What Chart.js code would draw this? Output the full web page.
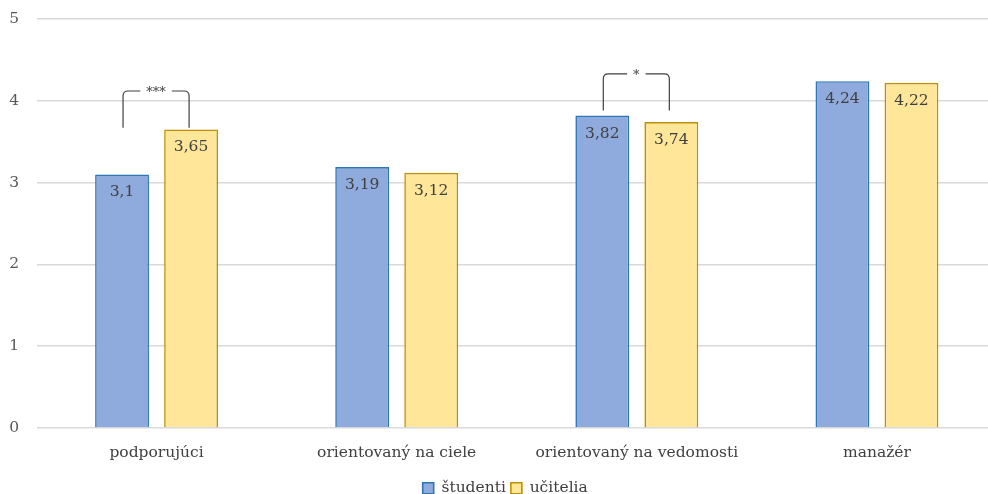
<!DOCTYPE html>
<html>
<head>
<meta charset="utf-8">
<script src="https://cdn.jsdelivr.net/npm/chart.js@4"></script>
<style>
  html, body { margin: 0; padding: 0; background: #fff; overflow: hidden; }
  #wrap { width: 988px; height: 494px; position: relative; }
</style>
</head>
<body>
<div id="wrap"><canvas id="chart"></canvas></div>
<script>
const categories = ['podporujúci', 'orientovaný na ciele', 'orientovaný na vedomosti', 'manažér'];
const studenti = [3.1, 3.19, 3.82, 4.24];
const ucitelia = [3.65, 3.12, 3.74, 4.22];
const yTicks = [0, 1, 2, 3, 4, 5];
// significance brackets: category index, marker, bracket top, leg bottom
const brackets = [
    { cat: 0, mark: '***', top: 4.12, bottom: 3.67 },
    { cat: 2, mark: '*', top: 4.33, bottom: 3.88 }
];

const FONT = '"DejaVu Serif", "Liberation Serif", serif';
const fmt = v => String(v).replace('.', ',');

// value labels just inside the top of each bar
const valueLabels = {
    id: 'valueLabels',
    afterDatasetsDraw(chart) {
        const ctx = chart.ctx;
        ctx.save();
        ctx.font = '15.5px ' + FONT;
        ctx.fillStyle = '#404040';
        ctx.textAlign = 'center';
        ctx.textBaseline = 'middle';
        chart.data.datasets.forEach((ds, i) => {
            chart.getDatasetMeta(i).data.forEach((bar, j) => {
                ctx.fillText(fmt(ds.data[j]), bar.x, bar.y + 18);
            });
        });
        ctx.restore();
    }
};

// brackets with significance stars between paired bars
const sigBrackets = {
    id: 'sigBrackets',
    afterDatasetsDraw(chart) {
        const ctx = chart.ctx;
        const y = chart.scales.y;
        const a = chart.getDatasetMeta(0).data;
        const b = chart.getDatasetMeta(1).data;
        ctx.save();
        ctx.strokeStyle = '#404040';
        ctx.lineWidth = 1.2;
        ctx.font = '13px ' + FONT;
        ctx.fillStyle = '#404040';
        ctx.textAlign = 'center';
        ctx.textBaseline = 'middle';
        brackets.forEach(br => {
            const x1 = a[br.cat].x + 1, x2 = b[br.cat].x - 2;
            const yt = y.getPixelForValue(br.top), yb = y.getPixelForValue(br.bottom);
            const mid = (x1 + x2) / 2;
            const half = ctx.measureText(br.mark).width / 2 + 6;
            const r = 5;
            ctx.beginPath();
            ctx.moveTo(x1, yb);
            ctx.lineTo(x1, yt + r);
            ctx.quadraticCurveTo(x1, yt, x1 + r, yt);
            ctx.lineTo(mid - half, yt);
            ctx.moveTo(mid + half, yt);
            ctx.lineTo(x2 - r, yt);
            ctx.quadraticCurveTo(x2, yt, x2, yt + r);
            ctx.lineTo(x2, yb);
            ctx.stroke();
            ctx.fillText(br.mark, mid, yt + 2);
        });
        ctx.restore();
    }
};

// category axis runs a little past the right edge; legend sits low and right of centre
const layoutTweaks = {
    id: 'layoutTweaks',
    afterLayout(chart) {
        const x = chart.scales.x;
        x.width = 960.5;
        x.right = x.left + x.width;
        x.configure();
        chart.legend.left += 7;
        chart.legend.right += 7;
        chart.legend.top += 5;
        chart.legend.bottom += 5;
    }
};

new Chart(document.getElementById('chart'), {
    type: 'bar',
    data: {
        labels: categories,
        datasets: [
            { label: 'študenti', data: studenti, backgroundColor: '#8faadc', borderColor: '#2e75b6', borderWidth: 1.6 },
            { label: 'učitelia', data: ucitelia, backgroundColor: '#ffe699', borderColor: '#bf9000', borderWidth: 1.6 }
        ]
    },
    options: {
        responsive: true,
        maintainAspectRatio: false,
        animation: false,
        categoryPercentage: 0.575,
        barPercentage: 0.78,
        layout: { padding: { left: 8.5, right: 0, top: 19, bottom: -7 } },
        plugins: {
            legend: {
                position: 'bottom',
                labels: {
                    boxWidth: 11, boxHeight: 11, color: '#404040', padding: 5,
                    font: { family: FONT, size: 15.5 }
                }
            },
            tooltip: { enabled: false }
        },
        scales: {
            x: {
                grid: { display: false },
                border: { display: false },
                ticks: { color: '#404040', font: { family: FONT, size: 15.5 }, padding: 8 },
                afterFit: s => { s.height = 42.5; s.paddingLeft = 0; s.paddingRight = 0; }
            },
            y: {
                min: 0, max: 5,
                afterBuildTicks: axis => { axis.ticks = yTicks.map(v => ({ value: v })); },
                grid: { color: '#d9d9d9', lineWidth: 1.5, drawTicks: false },
                border: { display: false },
                ticks: { color: '#595959', font: { family: FONT, size: 15.5 }, padding: 17.5 },
                afterFit: s => { s.width = 28; s.paddingTop = 0; s.paddingBottom = 0; }
            }
        }
    },
    plugins: [valueLabels, sigBrackets, layoutTweaks]
});
</script>
</body>
</html>
